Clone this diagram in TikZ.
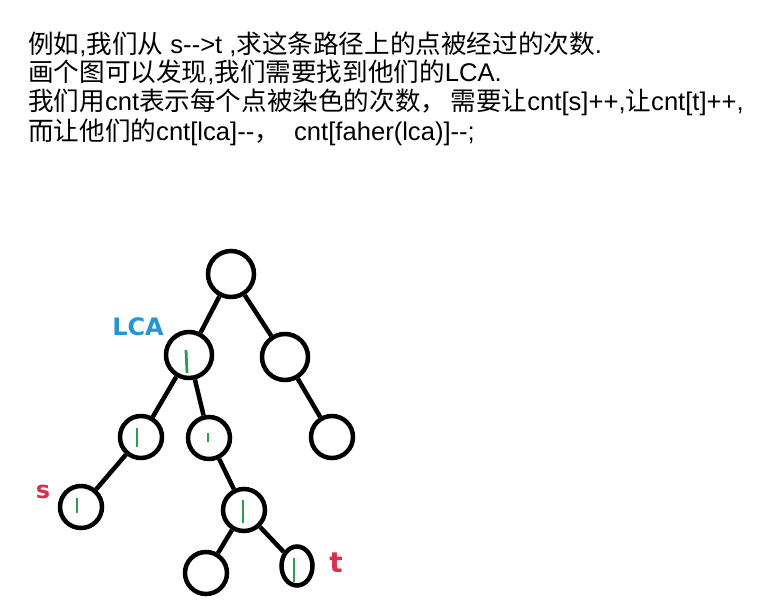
\documentclass[tikz,border=0pt]{standalone}
\usepackage{fontspec}
\setmainfont{Liberation Sans}
\newfontfamily\cjk{Noto Sans CJK SC}
\newfontfamily\lblfont{DejaVu Sans}
\usetikzlibrary{shapes.geometric}
\newcommand{\zh}[1]{{\cjk #1}}
\newcommand{\dd}{-\kern0pt-}
\definecolor{lcablue}{RGB}{35,150,215}
\definecolor{endred}{RGB}{215,50,75}
\definecolor{paintgreen}{RGB}{40,160,80}

\begin{document}
\begin{tikzpicture}[
  x=1pt, y=-1pt,
  vx/.style={draw, circle, line width=4.5pt, minimum size=42pt, inner sep=0pt},
  bigvx/.style={vx, minimum size=46pt},
  tvx/.style={draw, ellipse, line width=4.5pt, minimum width=31pt, minimum height=39pt, inner sep=0pt},
  edge/.style={line width=4.5pt},
  paint/.style={paintgreen, line width=2.8pt},
  txt/.style={anchor=base west, inner sep=0pt, font=\fontsize{25.6}{30}\selectfont},
  tag/.style={font=\lblfont\bfseries\fontsize{24}{28}\selectfont, inner sep=0pt},
]
\useasboundingbox (0,0) rectangle (768,613);

% --- explanation text ---
\node[txt] (l1) at (28,53) {\zh{例如},\zh{我们从} s\dd>t ,\zh{求这条路径上的点被经过的次数}.};
\node[txt] (l2) at (28,81) {\zh{画个图可以发现},\zh{我们需要找到他们的}LCA.};
\node[txt] (l3) at (28,110) {\zh{我们用}cnt\zh{表示每个点被染色的次数，\,需要让}cnt[s]++,\zh{让}cnt[t]++,};
\node[txt] (l4) at (28,140) {\zh{而让他们的}cnt[lca]\dd\zh{，}\ \ cnt[faher(lca)]\dd;};

% --- tree vertices ---
\node[bigvx] (root) at (231,274) {};
\node[bigvx] (lca)  at (189,355) {};
\node[bigvx] (rt)   at (285,357) {};
\node[vx]    (lc)   at (141,437) {};
\node[vx]    (mc)   at (209,438) {};
\node[vx]    (rl)   at (332,437) {};
\node[vx]    (s)    at (81,507)  {};
\node[vx]    (ml)   at (244,510) {};
\node[vx]    (bl)   at (206,573) {};
\node[tvx]   (t)    at (297,566) {};

% --- tree edges ---
\draw[edge] (root) -- (lca);
\draw[edge] (root) -- (rt);
\draw[edge] (lca) -- (lc);
\draw[edge] (lca) -- (mc);
\draw[edge] (rt) -- (rl);
\draw[edge] (lc) -- (s);
\draw[edge] (mc) -- (ml);
\draw[edge] (ml) -- (bl);
\draw[edge] (ml) -- (t);

% --- green marks (times painted) ---
\draw[paint] ([shift={(-3,-5)}]lca.center) -- ([shift={(-2,18)}]lca.center);
\draw[paint] ([shift={(-4,-9)}]lc.center) -- ([shift={(-4,10)}]lc.center);
\draw[paint] ([shift={(-1,-5)}]mc.center) -- ([shift={(-1,4)}]mc.center);
\draw[paint] ([shift={(-4,-9)}]s.center) -- ([shift={(-4,6)}]s.center);
\draw[paint] ([shift={(-1,-10)}]ml.center) -- ([shift={(-1,13)}]ml.center);
\draw[paint] ([shift={(-3,-8)}]t.center) -- ([shift={(-3,16)}]t.center);

% --- labels ---
\node[tag, lcablue] (lcatag) at (138,327) {LCA};
\node[tag, endred]  (stag)   at (43,492)  {s};
\node[tag, endred, font=\lblfont\bfseries\fontsize{28}{32}\selectfont] (ttag) at (336,563) {t};
\end{tikzpicture}
\end{document}
